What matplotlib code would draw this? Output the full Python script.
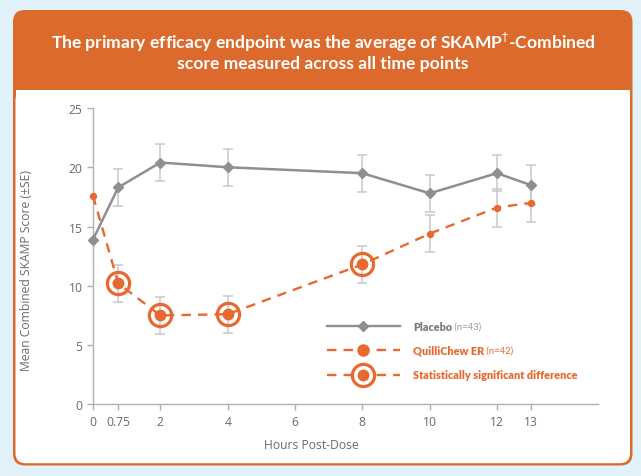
import matplotlib
matplotlib.use("Agg")
import matplotlib.pyplot as plt
from matplotlib.patches import FancyBboxPatch, Rectangle
from matplotlib.lines import Line2D

# Data
hours = [0, 0.75, 2, 4, 8, 10, 12, 13]
placebo = [13.9, 18.3, 20.4, 20.0, 19.5, 17.8, 19.5, 18.5]
placebo_se = [0.0, 1.55, 1.55, 1.55, 1.55, 1.55, 1.5, 1.7]
quilli = [17.6, 10.2, 7.5, 7.6, 11.8, 14.4, 16.6, 17.0]
quilli_se = [0.0, 1.55, 1.55, 1.55, 1.55, 1.55, 1.6, 1.6]
significant = [False, True, True, True, True, False, False, False]

xtick_vals = [0, 0.75, 2, 4, 6, 8, 10, 12, 13]
xtick_labels = ["0", "0.75", "2", "4", "6", "8", "10", "12", "13"]
ytick_vals = [0, 5, 10, 15, 20, 25]

title_lines = ["The primary efficacy endpoint was the average of SKAMP$^{\\dagger}$-Combined",
               "score measured across all time points"]

ORANGE = "#e8692f"
HEADER = "#dc6a2c"
GRAY = "#8f8f8f"
ERR = "#c9c9c9"
TXT = "#6a6a6a"

W, H = 641, 477
fig = plt.figure(figsize=(W / 100, H / 100), dpi=100)
fig.patch.set_facecolor("#e2f2fa")

# background card, drawn in pixel units
bg = fig.add_axes([0, 0, 1, 1])
bg.set_xlim(0, W)
bg.set_ylim(H, 0)
bg.axis("off")
bg.add_patch(FancyBboxPatch((13, 11), 619.5, 455.5, boxstyle="round,pad=0,rounding_size=12",
                            facecolor=HEADER, edgecolor="none"))
bg.add_patch(FancyBboxPatch((15.5, 91), 614.5, 373.2, boxstyle="round,pad=0,rounding_size=10",
                            facecolor="white", edgecolor="none"))
bg.add_patch(Rectangle((15.5, 91), 614.5, 20, facecolor="white", edgecolor="none"))
for i, line in enumerate(title_lines):
    bg.text(323, 42 + i * 22, line, ha="center", va="center", color="white",
            fontsize=12.6, fontweight="bold", family="Lato")

# main plot
ax = fig.add_axes([93 / W, 1 - 405.3 / H, 505 / W, 296.3 / H])
ax.set_xlim(0, 15)
ax.set_ylim(0, 25)
ax.patch.set_alpha(0)
for s in ["top", "right"]:
    ax.spines[s].set_visible(False)
for s in ["left", "bottom"]:
    ax.spines[s].set_color("#b0b0b0")
    ax.spines[s].set_linewidth(1.0)
ax.spines["left"].set_zorder(0)

ax.set_xticks(xtick_vals)
ax.set_xticklabels(xtick_labels)
ax.set_yticks(ytick_vals)
ax.tick_params(colors="#b0b0b0", labelcolor=TXT, length=4, width=1, labelsize=8.7)
for lab in ax.get_xticklabels() + ax.get_yticklabels():
    lab.set_family("Open Sans")

ax.set_xlabel("Hours Post-Dose", fontsize=8.7, color=TXT, family="Open Sans")
ax.xaxis.set_label_coords(6.5 / 15, -0.115)
ax.set_ylabel("Mean Combined SKAMP Score (\u00b1SE)", fontsize=8.7, color=TXT, family="Open Sans")
ax.yaxis.set_label_coords(-0.118, 0.455)

# error bars (skip baseline where no SE shown)
ax.errorbar(hours[1:], placebo[1:], yerr=placebo_se[1:], fmt="none", ecolor=ERR,
            elinewidth=1.1, capsize=3.5, capthick=1.1, zorder=1)
ax.errorbar(hours[1:], quilli[1:], yerr=quilli_se[1:], fmt="none", ecolor=ERR,
            elinewidth=1.1, capsize=3.5, capthick=1.1, zorder=1)

ax.plot(hours, placebo, color=GRAY, lw=1.8, marker="D", ms=5, mfc=GRAY, mec=GRAY,
        zorder=3, clip_on=False)
ax.plot(hours, quilli, color=ORANGE, lw=1.7, ls=(0, (4, 3)), zorder=4, clip_on=False)
ax.plot(hours, quilli, color=ORANGE, lw=0, marker="o", ms=4.3, zorder=5, clip_on=False)

sig_x = [h for h, s in zip(hours, significant) if s]
sig_y = [v for v, s in zip(quilli, significant) if s]
ax.plot(sig_x, sig_y, lw=0, marker="o", ms=7.5, color=ORANGE, zorder=6)
ax.plot(sig_x, sig_y, lw=0, marker="o", ms=16, mfc="none", mec=ORANGE, mew=2.3, zorder=6)

# legend drawn by hand so the labels can mix weights
rows = [
    dict(y=0.264, ls="-", color=GRAY, marker="D", ms=5, ring=False,
         bold="Placebo", extra=" (n=43)", tcolor="#7a7a7a", ecolor="#9a9a9a"),
    dict(y=0.183, ls=(0, (4, 3)), color=ORANGE, marker="o", ms=8, ring=False,
         bold="QuilliChew ER", extra=" (n=42)", tcolor=ORANGE, ecolor=ORANGE),
    dict(y=0.099, ls=(0, (4, 3)), color=ORANGE, marker="o", ms=8, ring=True,
         bold="Statistically significant difference", extra="", tcolor=ORANGE, ecolor=ORANGE),
]
x0, x1, xt = 0.463, 0.608, 0.634
for r in rows:
    ax.add_line(Line2D([x0, x1], [r["y"], r["y"]], transform=ax.transAxes, color=r["color"],
                       ls=r["ls"], lw=1.7, zorder=5))
    xm = (x0 + x1) / 2
    ax.add_line(Line2D([xm], [r["y"]], transform=ax.transAxes, color=r["color"], lw=0,
                       marker=r["marker"], ms=r["ms"] if not r["ring"] else 7.5, zorder=6))
    if r["ring"]:
        ax.add_line(Line2D([xm], [r["y"]], transform=ax.transAxes, lw=0, marker="o", ms=16,
                           mfc="white", mec=ORANGE, mew=2.3, zorder=5.5))
    t = ax.text(xt, r["y"], r["bold"], transform=ax.transAxes, ha="left", va="center",
                fontsize=7.8, fontweight="heavy", color=r["tcolor"], family="Lato")
    if r["extra"]:
        ax.annotate(r["extra"], xy=(1, 0.5), xycoords=t, va="center", ha="left",
                    fontsize=6.8, color=r["ecolor"], family="Lato")

fig.savefig("out.png", dpi=100, facecolor=fig.get_facecolor())
